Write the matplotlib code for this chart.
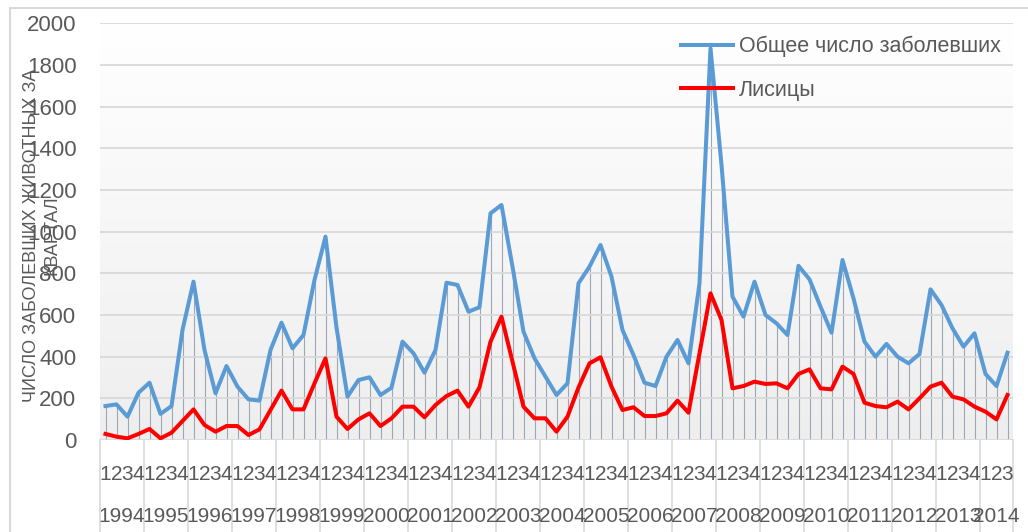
import numpy as np
import matplotlib
matplotlib.use("Agg")
import matplotlib.pyplot as plt
from matplotlib.colors import LinearSegmentedColormap
from matplotlib.patches import Rectangle

plt.rcParams['font.family'] = ['Liberation Sans', 'DejaVu Sans']

# данные по кварталам, 1994 Q1 - 2014 Q3
years = [str(y) for y in range(1994, 2015)]
quarters = ['1', '2', '3', '4']
total = [163, 171, 112, 227, 275, 125, 163, 528, 760, 432, 224, 355,
         256, 195, 189, 432, 563, 440, 504, 768, 976, 540, 208, 288,
         301, 216, 251, 472, 416, 323, 432, 755, 744, 616, 637, 1088,
         1128, 832, 520, 392, 304, 216, 272, 752, 832, 936, 784, 528,
         408, 275, 259, 400, 480, 368, 752, 1880, 1320, 688, 592, 760,
         600, 560, 504, 836, 771, 640, 515, 864, 680, 472, 400, 461,
         400, 368, 413, 723, 648, 536, 448, 512, 317, 259, 419]
foxes = [29, 16, 8, 29, 53, 8, 35, 91, 147, 72, 40, 67,
         67, 24, 51, 144, 237, 147, 147, 272, 392, 112, 53, 99,
         128, 67, 104, 160, 160, 109, 168, 211, 237, 160, 253, 472,
         592, 376, 160, 104, 104, 40, 112, 252, 368, 397, 256, 144,
         157, 115, 115, 128, 189, 131, 416, 704, 576, 248, 259, 280,
         269, 272, 248, 317, 339, 248, 243, 352, 317, 179, 163, 157,
         184, 147, 200, 256, 275, 208, 195, 160, 136, 99, 216]
labels = ['Общее число заболевших', 'Лисицы']
ylabel = 'ЧИСЛО ЗАБОЛЕВШИХ ЖИВОТНЫХ ЗА\nКВАРТАЛ'

n = len(total)
x = np.arange(n)
W, H = 1028, 532

fig = plt.figure(figsize=(W / 100, H / 100), dpi=100)
ax = fig.add_axes([100 / W, (H - 440) / H, 913 / W, 416.7 / H])

# фон с градиентом
cmap = LinearSegmentedColormap.from_list('bg', ['#ffffff', '#eeeeee'])
ax.imshow(np.linspace(0, 1, 256).reshape(-1, 1), extent=[-0.5, n - 0.5, 0, 2000],
          aspect='auto', cmap=cmap, origin='upper', zorder=0)

ax.vlines(x, 0, total, color='#9ea7b6', lw=0.8, zorder=1)
ax.plot(x, total, color='#5b9bd5', lw=2.9, label=labels[0], zorder=3)
ax.plot(x, foxes, color='#ff0000', lw=2.9, label=labels[1], zorder=4)

ax.set_xlim(-0.5, n - 0.5)
ax.set_ylim(0, 2000)
ax.set_yticks(range(0, 2001, 200))
ax.yaxis.grid(True, color='#d9d9d9', lw=1.3, zorder=0.5)
ax.set_axisbelow(False)
for s in ax.spines.values():
    s.set_visible(False)
ax.tick_params(axis='y', length=0, pad=17, labelsize=16, labelcolor='#595959')
ax.set_xticks([])

# двухуровневые подписи оси X
trans = ax.get_xaxis_transform()
for i in range(n):
    ax.text(x[i], -35 / 416.7, quarters[i % 4], transform=trans, ha='center', va='center',
            fontsize=15, color='#595959')
for k, y in enumerate(years):
    start = 4 * k
    end = min(4 * k + 4, n)
    ax.text((start + end - 1) / 2, -77 / 416.7, y, transform=trans, ha='center', va='center',
            fontsize=15, color='#595959')
bounds = list(np.arange(-0.5, n, 4)) + [n - 0.5]
for b in bounds:
    ax.plot([b, b], [0, -92 / 416.7], transform=trans, color='#d9d9d9', lw=1.2, clip_on=False)

fig.text(42 / W, (H - 235) / H, ylabel, rotation=90, ha='center', va='center',
         multialignment='center', fontsize=13, color='#595959', linespacing=1.25)

ax.legend(loc='upper left', bbox_to_anchor=(681 / W, (H - 36) / H), bbox_transform=fig.transFigure,
          frameon=False, fontsize=15.5, labelcolor='#595959', handlelength=2.4, handletextpad=0.3,
          labelspacing=1.05, borderpad=0, borderaxespad=0)

fig.patches.append(Rectangle((10 / W, -0.1), 1.2, (H - 8) / H + 0.1, transform=fig.transFigure,
                             fill=False, edgecolor='#d9d9d9', lw=1.5))

fig.savefig('out.png', dpi=100)
